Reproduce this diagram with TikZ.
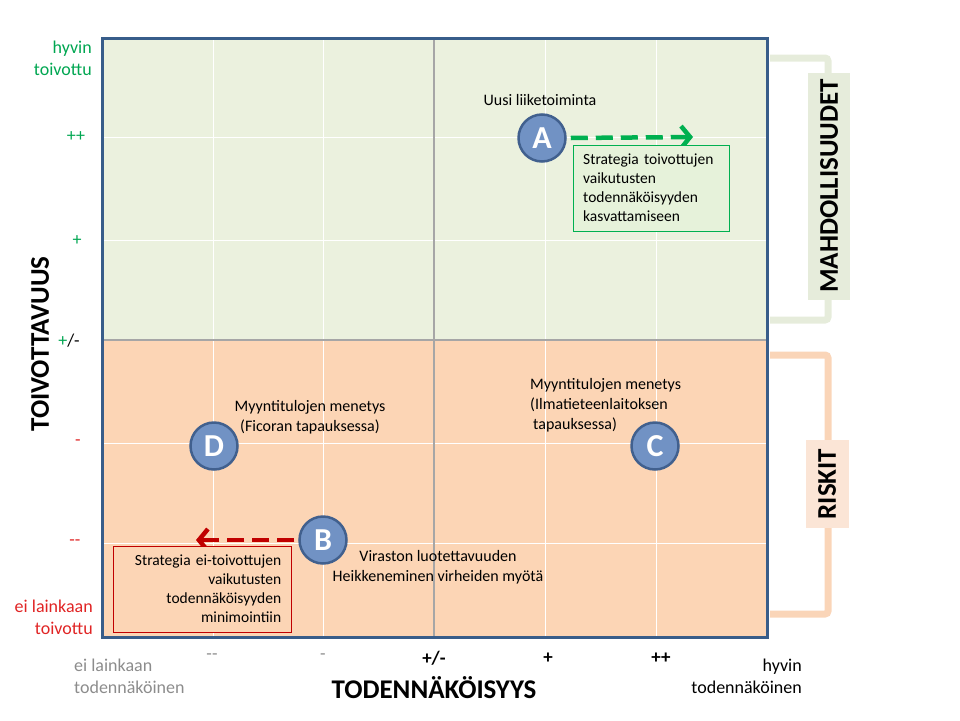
\documentclass[tikz,border=0pt]{standalone}
\usepackage{fontspec}
\setmainfont{Carlito}
\usepackage{tikz}
\usetikzlibrary{calc,arrows.meta}
\definecolor{upfill}{HTML}{EBF1DE}
\definecolor{lowfill}{HTML}{FCD5B5}
\definecolor{frameblue}{HTML}{385D8A}
\definecolor{midgray}{HTML}{A6A6A6}
\definecolor{ballfill}{HTML}{7192C4}
\definecolor{ballline}{HTML}{41608E}
\definecolor{goodgreen}{HTML}{00B050}
\definecolor{badred}{HTML}{C00000}
\definecolor{lblgreen}{HTML}{00A651}
\definecolor{lblred}{HTML}{E02424}
\definecolor{axgray}{HTML}{8C8C8C}
\definecolor{upbrack}{HTML}{E6ECDB}
\definecolor{lowbrack}{HTML}{FAD5B8}
\definecolor{lowlabel}{HTML}{FBE5D6}
\definecolor{goodbox}{HTML}{E6F2DA}
\definecolor{badbox}{HTML}{FCD5B5}
\tikzset{
  ball/.style={circle,fill=ballfill,draw=ballline,line width=2.5pt,minimum size=47pt,
    inner sep=0pt,text=white,font=\fontsize{32}{32}\selectfont\bfseries},
  txt/.style={font=\fontsize{16}{20}\selectfont,inner sep=0pt},
  axtxt/.style={font=\fontsize{18}{22}\selectfont,inner sep=0pt},
  ticktxt/.style={font=\fontsize{19}{19}\selectfont\bfseries,inner sep=0pt},
  bigtitle/.style={font=\fontsize{27}{27}\selectfont\bfseries,inner sep=0pt},
  sidelabel/.style={rotate=90,font=\fontsize{27}{27}\selectfont\bfseries,inner sep=0pt},
  bracket/.style={line width=7pt,rounded corners=3pt},
  goodarrow/.style={goodgreen,line width=4.5pt,dash pattern=on 17pt off 8pt,
    -{Straight Barb[length=9pt,width=22pt]}},
  badarrow/.style={badred,line width=4.5pt,dash pattern=on 17pt off 8pt,
    -{Straight Barb[length=9pt,width=22pt]}},
  stratbox/.style={font=\fontsize{15.5}{19}\selectfont,minimum height=86pt,inner xsep=10pt,inner ysep=0pt}
}
\begin{document}
\begin{tikzpicture}[x=1pt,y=-1pt]
\useasboundingbox (0,0) rectangle (960,720);
\draw[bracket,upbrack] (770,58) -- (828,58) -- (828,320) -- (770,320);
\draw[bracket,lowbrack] (770,355) -- (828,355) -- (828,614) -- (770,614);
\node[sidelabel,fill=upbrack,minimum width=227pt,minimum height=42pt] (mahd) at (829,186) {MAHDOLLISUUDET};
\node[sidelabel,fill=lowlabel,minimum width=88pt,minimum height=43pt] (risk) at (827,484) {RISKIT};
\fill[upfill] (102,38) rectangle (767,340);
\fill[lowfill] (102,340) rectangle (767,637);
\foreach \x in {213,323,545,656}
\draw[white,thin] (\x,38) -- (\x,637);
\foreach \y in {137,240,443,543}
\draw[white,thin] (102,\y) -- (767,\y);
\draw[midgray,line width=2.5pt] (434,38) -- (434,637);
\draw[midgray,line width=2.5pt] (102,340) -- (767,340);
\draw[frameblue,line width=3pt] (102,38) rectangle (767,637);
\node[axtxt,lblgreen,align=right,anchor=east] (hyvt) at (92,58) {hyvin\\toivottu};
\node[axtxt,lblgreen] (ypp) at (76,137) {++};
\node[axtxt,lblgreen] (yp) at (77,241) {+};
\node[axtxt] (ypm) at (69,341) {{\color{lblgreen}+}/-};
\node[axtxt,lblred] (ym) at (78,443) {-};
\node[axtxt,lblred] (ymm) at (75,543) {{-}{-}};
\node[axtxt,lblred,align=right,anchor=east] (eit) at (93,617) {ei lainkaan\\toivottu};
\node[bigtitle,rotate=90] (ytitle) at (40,344) {TOIVOTTAVUUS};
\node[axtxt,axgray,align=left,anchor=west] (eitod) at (74,676) {ei lainkaan\\todennäköinen};
\node[axtxt,axgray] (xmm) at (212,657) {{-}{-}};
\node[axtxt,axgray] (xm) at (323,657) {-};
\foreach \x/\t in {434/{+/-},548/+,661/{++}}
\node[ticktxt] at (\x,658) {\t};
\node[axtxt,align=right,anchor=east] (hyvtod) at (802,676) {hyvin\\todennäköinen};
\node[bigtitle] (xtitle) at (434,688) {TODENNÄKÖISYYS};
\node[ball] (A) at (542,138) {A};
\node[ball] (B) at (323,540) {B};
\node[ball] (C) at (655,446) {C};
\node[ball] (D) at (214,446) {D};
\node[txt] (Alab) at (540,100) {Uusi liiketoiminta};
\node[txt,align=center] (Dlab) at (310,417) {Myyntitulojen menetys\\(Ficoran tapauksessa)};
\node[txt,align=left,anchor=west] (Clab) at (530,405) {Myyntitulojen menetys\\(Ilmatieteenlaitoksen\\\hspace*{3pt}tapauksessa)};
\node[txt,align=center] (Blab) at (438,567) {Viraston luotettavuuden\\Heikkeneminen virheiden myötä};
\coordinate (Aend) at (693,137);
\coordinate (Bend) at (196,540);
\draw[goodarrow] ([xshift=4pt]A.east) -- (Aend);
\draw[badarrow] ([xshift=-4pt]B.west) -- (Bend);
\node[stratbox,draw=goodgreen,fill=goodbox,text width=136pt,align=left,anchor=north west] (Abox) at (573,145)
{Strategia toivottujen\\vaikutusten\\todennäköisyyden\\kasvattamiseen};
\node[stratbox,draw=badred,fill=badbox,text width=158pt,align=right,anchor=north west] (Bbox) at (113,546)
{Strategia ei-toivottujen\\vaikutusten\\todennäköisyyden\\minimointiin};
\end{tikzpicture}
\end{document}
